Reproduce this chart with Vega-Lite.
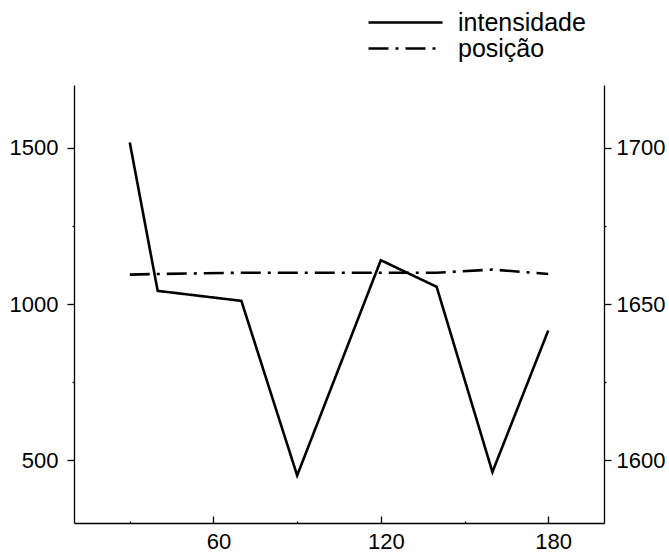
{
  "$schema": "https://vega.github.io/schema/vega-lite/v6.json",
  "width": 530,
  "height": 438,
  "autosize": {"type": "none"},
  "padding": {"left": 74, "top": 85, "right": 65, "bottom": 30},
  "config": {
    "view": {"stroke": null},
    "font": "Liberation Sans",
    "axis": {
      "domainColor": "black",
      "tickColor": "black",
      "labelColor": "black",
      "labelFontSize": 22,
      "grid": false,
      "domainWidth": 1.3,
      "tickWidth": 1.3,
      "title": null
    }
  },
  "data": {
    "values": [
      {"tempo": 30, "intensidade": 1516, "posicao": 1659.4},
      {"tempo": 40, "intensidade": 1042, "posicao": 1659.6},
      {"tempo": 70, "intensidade": 1010, "posicao": 1660},
      {"tempo": 90, "intensidade": 452, "posicao": 1660},
      {"tempo": 120, "intensidade": 1140, "posicao": 1660},
      {"tempo": 140, "intensidade": 1055, "posicao": 1660},
      {"tempo": 160, "intensidade": 463, "posicao": 1661},
      {"tempo": 180, "intensidade": 915, "posicao": 1659.6}
    ]
  },
  "layer": [
    {
      "mark": {"type": "line", "color": "black", "strokeWidth": 2.6},
      "encoding": {
        "x": {
          "field": "tempo",
          "type": "quantitative",
          "scale": {"domain": [10, 200], "nice": false, "zero": false},
          "axis": {
            "values": [30, 60, 90, 120, 150, 180],
            "labelExpr": "datum.value % 60 == 0 ? datum.label : ''",
            "tickSize": {"condition": {"test": "datum.value % 60 == 0", "value": -7}, "value": -2},
            "labelPadding": 15,
            "labelOffset": 5
          }
        },
        "y": {
          "field": "intensidade",
          "type": "quantitative",
          "scale": {"domain": [300, 1700], "nice": false, "zero": false},
          "axis": {
            "orient": "left",
            "values": [500, 750, 1000, 1250, 1500],
            "labelExpr": "datum.value % 500 == 0 ? datum.label : ''",
            "format": "d",
            "tickSize": {"condition": {"test": "datum.value % 500 == 0", "value": 7}, "value": 2},
            "labelPadding": 9
          }
        },
        "strokeDash": {
          "datum": "intensidade",
          "type": "nominal",
          "scale": {"domain": ["intensidade", "posição"], "range": [[1, 0], [20, 7, 3, 7]]},
          "legend": {
            "orient": "none",
            "legendX": 319,
            "legendY": -75,
            "title": null,
            "symbolType": "M-7.4,0H7.4",
            "symbolSize": 100,
            "symbolStrokeWidth": 2.4,
            "symbolStrokeColor": "black",
            "labelFontSize": 25,
            "labelColor": "black",
            "labelOffset": 40,
            "padding": 0,
            "rowPadding": 0
          }
        }
      }
    },
    {
      "mark": {"type": "line", "color": "black", "strokeWidth": 2.6},
      "encoding": {
        "x": {"field": "tempo", "type": "quantitative"},
        "y": {
          "field": "posicao",
          "type": "quantitative",
          "scale": {"domain": [1580, 1720], "nice": false, "zero": false},
          "axis": {
            "orient": "right",
            "values": [1600, 1625, 1650, 1675, 1700],
            "labelExpr": "datum.value % 50 == 0 ? datum.label : ''",
            "format": "d",
            "tickSize": {"condition": {"test": "datum.value % 50 == 0", "value": 7}, "value": 2},
            "labelPadding": 5
          }
        },
        "strokeDash": {"datum": "posição", "type": "nominal"}
      }
    }
  ],
  "resolve": {"scale": {"y": "independent"}}
}
